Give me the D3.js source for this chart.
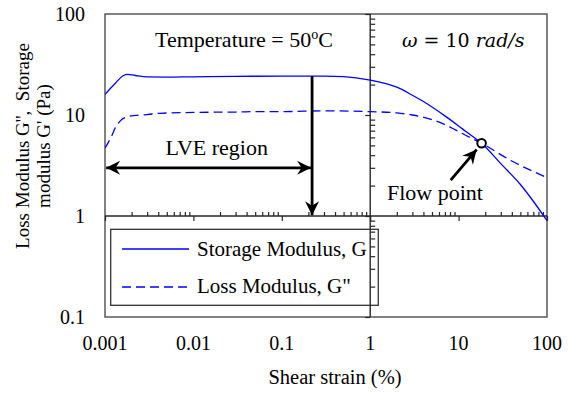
<!DOCTYPE html>
<html>
<head>
<meta charset="utf-8">
<script src="https://cdn.jsdelivr.net/npm/d3@7"></script>
<style>
  html, body { margin: 0; padding: 0; background: #fff; }
  svg { display: block; }
  text { font-family: "Liberation Serif", "Times New Roman", serif; fill: #000; }
</style>
</head>
<body>
<svg id="chart" width="568" height="394"></svg>
<script>
// ---- data ----
const strainG1 = [0.001, 0.0013, 0.0016, 0.0018, 0.0022, 0.003, 0.005, 0.01, 0.03, 0.1, 0.3, 0.5, 1, 1.5, 2, 3, 4, 7, 10, 12, 18.2, 30, 50, 70, 100];
const storageG1 = [16, 20.5, 24.5, 25.3, 24.6, 23.8, 23.7, 23.9, 24.1, 24.3, 24.3, 24.0, 22.2, 20.5, 18.9, 15.7, 13.6, 9.8, 7.8, 6.9, 5.25, 3.3, 2.05, 1.4, 0.9];
const strainG2 = [0.001, 0.0012, 0.0013, 0.0015, 0.0018, 0.0022, 0.003, 0.0042, 0.01, 0.03, 0.056, 0.1, 0.3, 1, 2, 3, 5, 8, 12, 18.2, 40, 100];
const lossG2 = [4.7, 6.3, 7.4, 8.8, 9.6, 9.9, 10.1, 10.4, 10.6, 10.7, 10.8, 10.8, 11.0, 10.8, 10.5, 10.0, 9.0, 7.6, 6.3, 5.25, 3.5, 2.4];
const xMajorTicks = [0.001, 0.01, 0.1, 1, 10, 100];
const xTickLabels = ["0.001", "0.01", "0.1", "1", "10", "100"];
const yMajorTicks = [0.1, 1, 10, 100];
const yTickLabels = ["0.1", "1", "10", "100"];
const seriesNames = ["Storage Modulus, G", "Loss Modulus, G\""];
const flowPoint = [18.2, 5.25];
const lveLimit = 0.22;

// ---- layout ----
const svg = d3.select("#chart");
const L = 105, R = 547, T = 14, B = 317;
const x = d3.scaleLog().domain([0.001, 100]).range([L, R]);
const y = d3.scaleLog().domain([0.1, 100]).range([B, T]);
const blue = "#0000ff";

const defs = svg.append("defs");
defs.append("clipPath").attr("id", "clip")
  .append("rect").attr("x", L).attr("y", T).attr("width", R - L).attr("height", B - T);
defs.append("marker").attr("id", "arrow")
  .attr("viewBox", "-15 -8 17 16").attr("refX", 0).attr("refY", 0)
  .attr("markerWidth", 17).attr("markerHeight", 16)
  .attr("markerUnits", "userSpaceOnUse").attr("orient", "auto-start-reverse")
  .append("path").attr("d", "M0,0 L-14,-7 L-9.5,0 L-14,7 Z").attr("fill", "#000");

// legend box (under axes)
const lg = svg.append("g");
lg.append("rect").attr("x", 110.7).attr("y", 229.3).attr("width", 267.6).attr("height", 76)
  .attr("fill", "#fff").attr("stroke", "#333").attr("stroke-width", 1.3);
[0, 1].forEach(i => {
  const yy = [249, 287][i];
  lg.append("line").attr("x1", 122).attr("x2", 189).attr("y1", yy).attr("y2", yy)
    .attr("stroke", blue).attr("stroke-width", 1.3)
    .attr("stroke-dasharray", i === 1 ? "9,5" : null);
  lg.append("text").attr("x", 197).attr("y", [256, 293.3][i])
    .attr("font-size", 21).text(seriesNames[i]);
});

// frame
svg.append("rect").attr("x", L).attr("y", T).attr("width", R - L).attr("height", B - T)
  .attr("fill", "none").attr("stroke", "#595959").attr("stroke-width", 1.5);

// axes crossing at x=1 and y=1
const xMinor = [];
const yMinor = [];
xMajorTicks.slice(0, -1).forEach(d => { for (let k = 2; k <= 9; k++) xMinor.push(d * k); });
yMajorTicks.slice(0, -1).forEach(d => { for (let k = 2; k <= 9; k++) yMinor.push(d * k); });

const axCol = "#262626";
const gxMaj = svg.append("g").attr("transform", `translate(0,${y(1)})`)
  .call(d3.axisBottom(x).tickValues(xMajorTicks).tickSize(5).tickFormat(""));
const gxMin = svg.append("g").attr("transform", `translate(0,${y(1)})`)
  .call(d3.axisTop(x).tickValues(xMinor).tickSize(4).tickFormat(""));
const gyMaj = svg.append("g").attr("transform", `translate(${x(1)},0)`)
  .call(d3.axisLeft(y).tickValues(yMajorTicks).tickSize(5).tickFormat(""));
const gyMin = svg.append("g").attr("transform", `translate(${x(1)},0)`)
  .call(d3.axisRight(y).tickValues(yMinor).tickSize(5).tickFormat(""));
[gxMaj, gxMin, gyMaj, gyMin].forEach(g => {
  g.select(".domain").remove();
  g.selectAll("line").attr("stroke", axCol).attr("stroke-width", 1.2);
});
svg.append("line").attr("x1", L).attr("x2", R).attr("y1", y(1)).attr("y2", y(1))
  .attr("stroke", axCol).attr("stroke-width", 1.4);
svg.append("line").attr("x1", x(1)).attr("x2", x(1)).attr("y1", T).attr("y2", B)
  .attr("stroke", axCol).attr("stroke-width", 1.4);

// tick labels
svg.append("g").selectAll("text").data(xMajorTicks).join("text")
  .attr("x", d => x(d)).attr("y", 350).attr("text-anchor", "middle")
  .attr("font-size", 20).text((d, i) => xTickLabels[i]);
svg.append("g").selectAll("text").data(yMajorTicks).join("text")
  .attr("x", 85).attr("y", d => y(d)).attr("dy", "0.35em").attr("text-anchor", "end")
  .attr("font-size", 20).text((d, i) => yTickLabels[i]);

// axis titles
svg.append("text").attr("x", 335).attr("y", 384).attr("text-anchor", "middle")
  .attr("font-size", 20.5).text("Shear strain (%)");
svg.append("text").attr("transform", "translate(28.5,146) rotate(-90)")
  .attr("text-anchor", "middle").attr("font-size", 19).style("white-space", "pre")
  .text("Loss Modulus G'',  Storage");
svg.append("text").attr("transform", "translate(50,146) rotate(-90)")
  .attr("text-anchor", "middle").attr("font-size", 19).text("modulus G' (Pa)");

// series
const line = d3.line().x(d => x(d[0])).y(d => y(d[1])).curve(d3.curveMonotoneX);
const plot = svg.append("g").attr("clip-path", "url(#clip)");
plot.append("path").datum(strainG1.map((s, i) => [s, storageG1[i]]))
  .attr("d", line).attr("fill", "none").attr("stroke", blue).attr("stroke-width", 1.3);
plot.append("path").datum(strainG2.map((s, i) => [s, lossG2[i]]))
  .attr("d", line).attr("fill", "none").attr("stroke", blue).attr("stroke-width", 1.3)
  .attr("stroke-dasharray", "9,5");

// annotations
const temp = svg.append("text").attr("x", 155).attr("y", 47).attr("font-size", 22);
temp.append("tspan").text("Temperature = 50");
temp.append("tspan").attr("font-size", 14).attr("dy", -8).text("o");
temp.append("tspan").attr("dy", 8).text("C");

const om = svg.append("text").attr("x", 402).attr("y", 47).attr("font-size", 19)
  .style("font-family", "'DejaVu Serif', serif").style("white-space", "pre");
om.append("tspan").attr("font-style", "italic").text("ω");
om.append("tspan").text(" = 10 ");
om.append("tspan").attr("font-style", "italic").text("rad/s");

svg.append("text").attr("x", 216.7).attr("y", 155).attr("text-anchor", "middle")
  .attr("font-size", 22).text("LVE region");
svg.append("text").attr("x", 435).attr("y", 200).attr("text-anchor", "middle")
  .attr("font-size", 22).text("Flow point");

const arrowW = 2.8;
svg.append("line").attr("x1", x(0.00103)).attr("x2", x(lveLimit) - 1).attr("y1", y(3)).attr("y2", y(3))
  .attr("stroke", "#000").attr("stroke-width", arrowW)
  .attr("marker-start", "url(#arrow)").attr("marker-end", "url(#arrow)");
svg.append("line").attr("x1", x(lveLimit)).attr("x2", x(lveLimit)).attr("y1", y(24.3)).attr("y2", y(1.02))
  .attr("stroke", "#000").attr("stroke-width", arrowW).attr("marker-end", "url(#arrow)");
svg.append("line").attr("x1", x(8.14)).attr("y1", y(2.27)).attr("x2", x(16.0)).attr("y2", y(4.55))
  .attr("stroke", "#000").attr("stroke-width", arrowW).attr("marker-end", "url(#arrow)");
svg.append("circle").attr("cx", x(flowPoint[0])).attr("cy", y(flowPoint[1])).attr("r", 4.3)
  .attr("fill", "#fff").attr("stroke", "#000").attr("stroke-width", 2);
</script>
</body>
</html>
